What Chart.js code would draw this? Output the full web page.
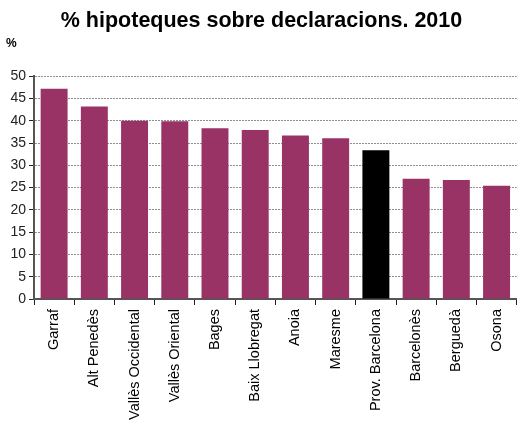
<!DOCTYPE html>
<html>
<head>
<meta charset="utf-8">
<script src="https://cdn.jsdelivr.net/npm/chart.js@4"></script>
<style>
  body { margin: 0; background: #fff; }
</style>
</head>
<body>
<canvas id="hipoteques" width="518" height="423"></canvas>
<script>
// Comarques i percentatge d'hipoteques sobre declaracions (2010)
const comarques = ['Garraf', 'Alt Penedès', 'Vallès Occidental', 'Vallès Oriental', 'Bages',
    'Baix Llobregat', 'Anoia', 'Maresme', 'Prov. Barcelona', 'Barcelonès', 'Berguedà', 'Osona'];
const percentatges = [47.2, 43.2, 40.0, 39.9, 38.3, 37.9, 36.7, 36.1, 33.4, 27.0, 26.7, 25.4];

// La província es destaca en negre
const colors = comarques.map(c => c === 'Prov. Barcelona' ? '#000000' : '#993366');

const ctx = document.getElementById('hipoteques').getContext('2d');
new Chart(ctx, {
    type: 'bar',
    data: {
        labels: comarques,
        datasets: [{
            data: percentatges,
            backgroundColor: colors,
            borderWidth: 0,
            categoryPercentage: 1,
            barPercentage: 0.67
        }]
    },
    options: {
        responsive: false,
        animation: false,
        layout: { padding: { left: 6, right: 1, top: 8, bottom: 0 } },
        plugins: {
            legend: { display: false },
            tooltip: { enabled: false },
            title: {
                display: true,
                text: '% hipoteques sobre declaracions. 2010',
                color: '#000',
                font: { family: 'Arial, "Liberation Sans"', size: 21.5, weight: 'bold' },
                padding: { top: 0, bottom: 3 }
            },
            subtitle: {
                display: true,
                text: '%',
                align: 'start',
                color: '#000',
                font: { family: 'Arial, "Liberation Sans"', size: 12, weight: 'bold' },
                padding: { top: 0, bottom: 25 }
            }
        },
        scales: {
            x: {
                offset: true,
                // l'eix inferior té alçada fixa: les etiquetes llargues queden tallades com a l'original
                afterFit: scale => { scale.height = 124; },
                grid: {
                    offset: true,
                    drawOnChartArea: false,
                    tickLength: 6,
                    tickColor: '#222',
                    tickWidth: 1
                },
                border: { color: '#555', width: 2 },
                ticks: {
                    minRotation: 90,
                    maxRotation: 90,
                    autoSkip: false,
                    color: '#000',
                    padding: 4,
                    font: { family: 'Arial, "Liberation Sans"', size: 14.5 }
                }
            },
            y: {
                min: 0,
                max: 50,
                afterFit: scale => { scale.width = 28; },
                ticks: {
                    stepSize: 5,
                    color: '#222',
                    padding: 3,
                    font: { family: 'Arial, "Liberation Sans"', size: 14 }
                },
                grid: {
                    color: '#8f8f8f',
                    tickColor: '#222',
                    tickLength: 5,
                    tickBorderDash: [],
                    lineWidth: 1
                },
                border: { color: '#555', width: 2, dash: [2, 1] }
            }
        }
    }
});
</script>
</body>
</html>
